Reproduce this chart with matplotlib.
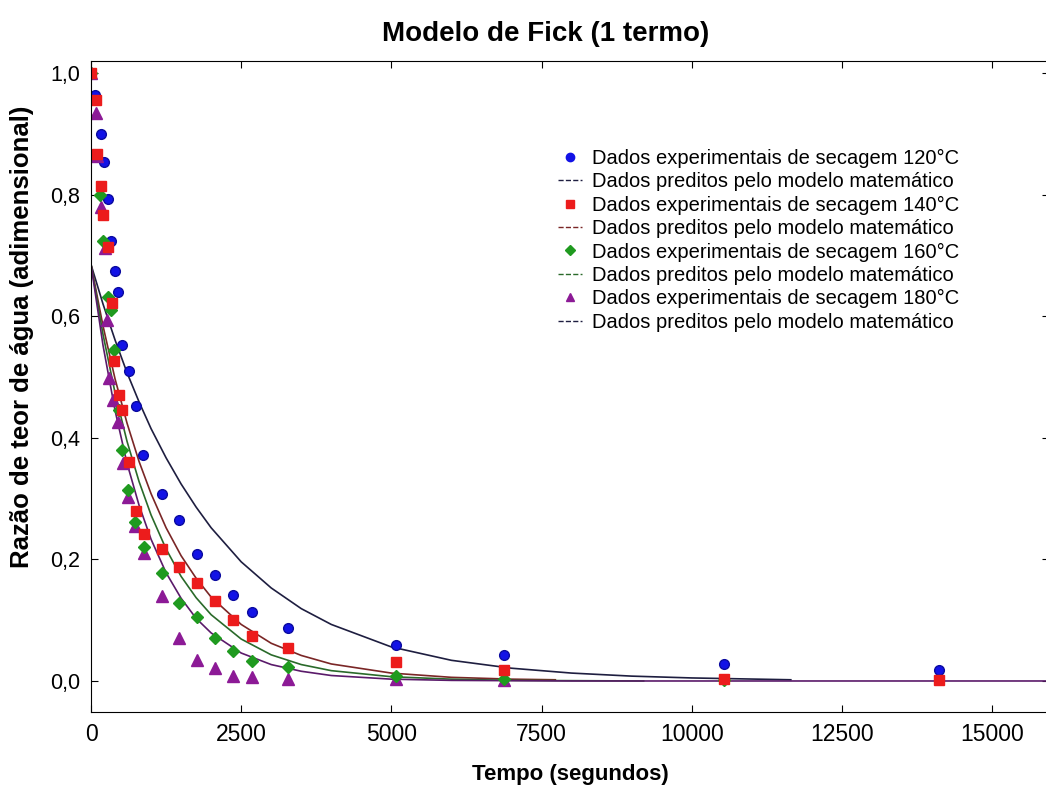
import matplotlib
matplotlib.use("Agg")
import matplotlib.pyplot as plt
from matplotlib.lines import Line2D

plt.rcParams['font.family'] = ['Liberation Sans', 'DejaVu Sans']

# experimental data (time in s, moisture ratio)
t_120 = [0, 67, 162, 217, 288, 333, 400, 455, 512, 633, 745, 872, 1178, 1467, 1762,
         2067, 2372, 2678, 3272, 5078, 6880, 10530, 14115]
mr_120 = [1.0, 0.964, 0.900, 0.854, 0.793, 0.724, 0.675, 0.640, 0.553, 0.510, 0.452,
          0.372, 0.308, 0.264, 0.209, 0.174, 0.141, 0.113, 0.087, 0.059, 0.043, 0.028, 0.018]

t_140 = [0, 78, 95, 162, 205, 278, 345, 383, 472, 522, 638, 750, 883, 1178, 1472, 1772,
         2072, 2372, 2678, 3272, 5078, 6880, 10530, 14115]
mr_140 = [1.0, 0.956, 0.866, 0.814, 0.766, 0.714, 0.621, 0.526, 0.470, 0.446, 0.361,
          0.280, 0.241, 0.217, 0.188, 0.161, 0.131, 0.100, 0.074, 0.055, 0.032, 0.018,
          0.003, 0.002]

t_160 = [0, 150, 205, 278, 328, 383, 472, 512, 622, 733, 883, 1178, 1467, 1772, 2072,
         2372, 2678, 3272, 5078, 6880, 10530]
mr_160 = [1.0, 0.799, 0.723, 0.632, 0.610, 0.544, 0.446, 0.380, 0.314, 0.262, 0.221,
          0.178, 0.128, 0.105, 0.070, 0.050, 0.033, 0.023, 0.008, 0.003, 0.002]

t_180 = [0, 83, 95, 162, 233, 262, 305, 372, 455, 538, 622, 733, 883, 1178, 1467, 1772,
         2072, 2372, 2678, 3272, 5078, 6880]
mr_180 = [1.0, 0.935, 0.863, 0.780, 0.712, 0.594, 0.498, 0.462, 0.426, 0.358, 0.303,
          0.255, 0.210, 0.140, 0.070, 0.035, 0.021, 0.008, 0.007, 0.003, 0.003, 0.002]

# model curves
tm_120 = [0, 200, 400, 600, 800, 1000, 1250, 1500, 1750, 2000, 2500, 3000, 3500, 4000,
          5000, 6000, 7000, 8000, 9000, 10000, 11650]
pm_120 = [0.685, 0.620, 0.561, 0.507, 0.459, 0.415, 0.367, 0.324, 0.286, 0.252, 0.196,
          0.153, 0.119, 0.093, 0.056, 0.034, 0.021, 0.013, 0.008, 0.005, 0.002]

tm_140 = [0, 200, 400, 600, 800, 1000, 1250, 1500, 1750, 2000, 2500, 3000, 3500, 4000,
          5000, 6000, 7000, 7730]
pm_140 = [0.685, 0.584, 0.497, 0.424, 0.361, 0.308, 0.252, 0.206, 0.169, 0.138, 0.093,
          0.062, 0.042, 0.028, 0.013, 0.006, 0.003, 0.002]

tm_160 = [0, 200, 400, 600, 800, 1000, 1250, 1500, 1750, 2000, 2500, 3000, 3500, 4000,
          5000, 6000, 7000, 9200]
pm_160 = [0.685, 0.570, 0.474, 0.394, 0.328, 0.273, 0.217, 0.172, 0.137, 0.109, 0.069,
          0.043, 0.027, 0.017, 0.007, 0.003, 0.001, 0.0]

tm_180 = [0, 200, 400, 600, 800, 1000, 1250, 1500, 1750, 2000, 2500, 3000, 3500, 4000,
          5000, 6000, 8000, 16000]
pm_180 = [0.685, 0.552, 0.445, 0.358, 0.289, 0.233, 0.178, 0.136, 0.103, 0.079, 0.046,
          0.027, 0.016, 0.009, 0.003, 0.001, 0.0, 0.0]

xticks = [0, 2500, 5000, 7500, 10000, 12500, 15000]
yticks = [0.0, 0.2, 0.4, 0.6, 0.8, 1.0]

fig = plt.figure(figsize=(10.46, 7.85), dpi=100)
ax = fig.add_axes([0.087, 0.093, 0.916, 0.8295])

# model lines
ax.plot(tm_120, pm_120, color="#1e1e40", lw=1.2)
ax.plot(tm_140, pm_140, color="#7a2626", lw=1.2)
ax.plot(tm_160, pm_160, color="#2a6a2a", lw=1.2)
ax.plot(tm_180, pm_180, color="#5a1a6a", lw=1.2)

# experimental points
ax.plot(t_120, mr_120, "o", color="#1212e6", mec="#0a0aa0", ms=7, ls="none")
ax.plot(t_180, mr_180, "^", color="#8c1a96", mec="#8c1a96", ms=8, ls="none")
ax.plot(t_160, mr_160, "D", color="#1f9a1f", mec="#1f9a1f", ms=6, ls="none")
ax.plot(t_140, mr_140, "s", color="#ec1c1c", mec="#ec1c1c", ms=7.5, ls="none")

ax.set_xlim(0, 15950)
ax.set_ylim(-0.051, 1.02)
ax.set_xticks(xticks)
ax.set_yticks(yticks)
ax.set_xticklabels([str(v) for v in xticks])
ax.set_yticklabels([f"{v:.1f}".replace(".", ",") for v in yticks])
ax.tick_params(direction="in", top=True, right=True, length=5, pad=8)
ax.tick_params(axis="x", labelsize=16.5)
ax.tick_params(axis="y", labelsize=15.5)

fig.suptitle("Modelo de Fick (1 termo)", x=0.522, y=1 - 34 / 785, va="center",
             fontsize=20, fontweight="bold")
ax.set_xlabel("Tempo (segundos)", fontsize=16, fontweight="bold", labelpad=13)
fig.text(0.021, 1 - 337 / 785, "Razão de teor de água (adimensional)", rotation=90,
         ha="center", va="center", fontsize=18.5, fontweight="bold")

pred = "Dados preditos pelo modelo matemático"
handles = [
    Line2D([], [], marker="o", color="#1212e6", ls="none", ms=6),
    Line2D([], [], color="#1e1e40", ls="--", lw=1),
    Line2D([], [], marker="s", color="#ec1c1c", ls="none", ms=6),
    Line2D([], [], color="#7a2626", ls="--", lw=1),
    Line2D([], [], marker="D", color="#1f9a1f", ls="none", ms=5),
    Line2D([], [], color="#2a6a2a", ls="--", lw=1),
    Line2D([], [], marker="^", color="#8c1a96", ls="none", ms=6),
    Line2D([], [], color="#1e1e40", ls="--", lw=1),
]
labels = ["Dados experimentais de secagem 120°C", pred,
          "Dados experimentais de secagem 140°C", pred,
          "Dados experimentais de secagem 160°C", pred,
          "Dados experimentais de secagem 180°C", pred]
ax.legend(handles, labels, loc="upper left", bbox_to_anchor=(0.468, 0.893), frameon=False,
          fontsize=14.5, handlelength=1.2, handletextpad=0.5, labelspacing=0.22)

fig.savefig("out.png", dpi=100)
